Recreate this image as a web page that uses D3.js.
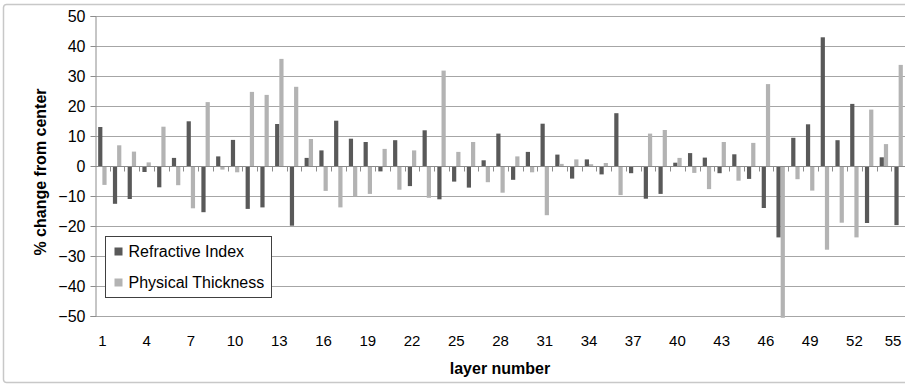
<!DOCTYPE html>
<html>
<head>
<meta charset="utf-8">
<script src="https://cdn.jsdelivr.net/npm/d3@7"></script>
<style>
  body { margin: 0; background: #fff; }
  svg text { font-family: "Liberation Sans", sans-serif; fill: #000; }
</style>
</head>
<body>
<script>
// layer numbers 1..55
var layers = d3.range(1, 56);

// % change from center
var refractiveIndex = [
  13.0, -12.6, -11.0, -2.0, -7.1, 2.7, 14.9, -15.4, 3.2, 8.7,
  -14.3, -13.8, 14.0, -19.9, 2.7, 5.2, 15.1, 9.1, 8.0, -1.8,
  8.6, -6.7, 11.9, -11.1, -5.2, -7.2, 1.9, 10.8, -4.6, 4.7,
  14.1, 3.8, -4.2, 2.2, -2.8, 17.6, -2.4, -10.9, -9.3, 1.1,
  4.3, 2.8, -2.4, 3.9, -4.3, -14.0, -23.8, 9.4, 13.9, 42.9,
  8.6, 20.7, -19.0, 2.9, -19.7
];
var physicalThickness = [
  -6.3, 6.9, 4.8, 1.2, 13.1, -6.4, -14.1, 21.3, -1.2, -2.1,
  24.7, 23.7, 35.7, 26.4, 9.0, -8.3, -13.8, -10.1, -9.3, 5.7,
  -7.9, 5.2, -10.6, 31.8, 4.7, 8.0, -5.4, -8.9, 3.2, -2.1,
  -16.4, 0.7, 2.2, 0.6, 1.0, -9.7, -0.3, 10.8, 12.0, 2.7,
  -2.3, -7.7, 8.0, -4.9, 7.7, 27.3, -50.6, -4.4, -8.2, -27.9,
  -18.9, -23.8, 18.8, 7.3, 33.7
];

var seriesNames = ["Refractive Index", "Physical Thickness"];
var seriesColors = ["#595959", "#b3b3b3"];
var yTicks = [50, 40, 30, 20, 10, 0, -10, -20, -30, -40, -50];
var xTickLabels = [1, 4, 7, 10, 13, 16, 19, 22, 25, 28, 31, 34, 37, 40, 43, 46, 49, 52, 55];

var W = 905, H = 385;
var margin = {left: 95, right: -1, top: 16, bottom: 69};

var svg = d3.select("body").append("svg")
    .attr("width", W)
    .attr("height", H);

// outer chart frame
svg.append("rect")
    .attr("x", 3.5).attr("y", 4.5)
    .attr("width", W + 10).attr("height", 378)
    .attr("rx", 3)
    .attr("fill", "none")
    .attr("stroke", "#c8c8c8")
    .attr("stroke-width", 1.5);

var x = d3.scaleBand()
    .domain(layers)
    .range([margin.left, W - margin.right]);

var y = d3.scaleLinear()
    .domain([-50, 50])
    .range([H - margin.bottom, margin.top]);

var barW = x.bandwidth() / 3.5;

// gridlines
svg.append("g")
    .selectAll("line")
    .data(yTicks)
    .enter().append("line")
    .attr("x1", margin.left)
    .attr("x2", W)
    .attr("y1", function(d) { return Math.round(y(d)) + 0.5; })
    .attr("y2", function(d) { return Math.round(y(d)) + 0.5; })
    .attr("stroke", "#a6a6a6")
    .attr("stroke-width", 1);

// y axis
var yAxis = d3.axisLeft(y)
    .tickValues(yTicks)
    .tickSize(5)
    .tickPadding(5);

var gy = svg.append("g")
    .attr("transform", "translate(" + (margin.left + 0.5) + ",0)")
    .call(yAxis);
gy.select(".domain").attr("stroke", "#8c8c8c");
gy.selectAll(".tick line").attr("stroke", "#8c8c8c");
gy.selectAll(".tick text")
    .style("font-size", "16px")
    .attr("dy", "0.34em");

// bars
var groups = svg.append("g")
    .selectAll("g")
    .data(layers)
    .enter().append("g")
    .attr("transform", function(d) { return "translate(" + (x(d) + x.bandwidth() / 2) + ",0)"; });

[refractiveIndex, physicalThickness].forEach(function(vals, s) {
  groups.append("rect")
      .attr("x", s === 0 ? -barW : 0)
      .attr("width", barW)
      .attr("y", function(d, i) { return y(Math.max(0, vals[i])); })
      .attr("height", function(d, i) { return Math.abs(y(vals[i]) - y(0)); })
      .attr("fill", seriesColors[s]);
});

// category axis along zero with ticks between layers
var zeroY = Math.round(y(0)) + 0.5;
svg.append("line")
    .attr("x1", margin.left).attr("x2", W)
    .attr("y1", zeroY).attr("y2", zeroY)
    .attr("stroke", "#8c8c8c");
svg.append("g")
    .selectAll("line")
    .data(layers)
    .enter().append("line")
    .attr("x1", function(d) { return Math.round(x(d) + x.bandwidth()) + 0.5; })
    .attr("x2", function(d) { return Math.round(x(d) + x.bandwidth()) + 0.5; })
    .attr("y1", zeroY)
    .attr("y2", zeroY + 5)
    .attr("stroke", "#8c8c8c");

// x labels (last one kept inside the window)
svg.append("g")
    .selectAll("text")
    .data(xTickLabels)
    .enter().append("text")
    .attr("x", function(d) { return Math.min(x(d) + x.bandwidth() / 2, W - 12); })
    .attr("y", 341)
    .attr("dy", "0.35em")
    .attr("text-anchor", "middle")
    .style("font-size", "15px")
    .text(function(d) { return d; });

// axis titles
svg.append("text")
    .attr("x", 500)
    .attr("y", 368)
    .attr("dy", "0.35em")
    .attr("text-anchor", "middle")
    .style("font-size", "16px")
    .style("font-weight", "bold")
    .text("layer number");

svg.append("text")
    .attr("transform", "translate(40,172) rotate(-90)")
    .attr("dy", "0.35em")
    .attr("text-anchor", "middle")
    .style("font-size", "16px")
    .style("font-weight", "bold")
    .text("% change from center");

// legend
var legend = svg.append("g").attr("transform", "translate(105.5,236.5)");
legend.append("rect")
    .attr("width", 166).attr("height", 61)
    .attr("fill", "#fff")
    .attr("stroke", "#404040");
seriesNames.forEach(function(name, i) {
  var row = legend.append("g").attr("transform", "translate(0," + (15 + i * 31) + ")");
  row.append("rect")
      .attr("x", 9).attr("y", -4)
      .attr("width", 8).attr("height", 8)
      .attr("fill", seriesColors[i]);
  row.append("text")
      .attr("x", 23)
      .attr("dy", "0.35em")
      .style("font-size", "16px")
      .text(name);
});
</script>
</body>
</html>
